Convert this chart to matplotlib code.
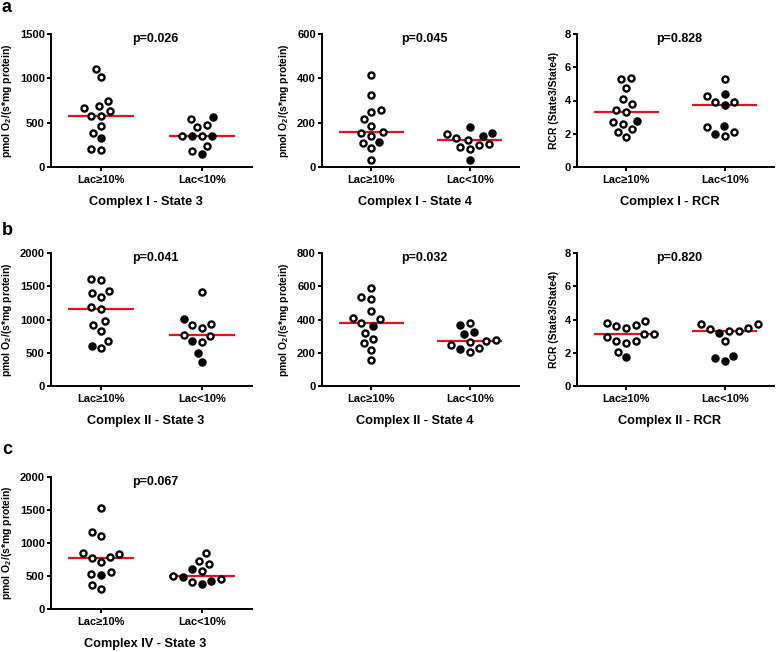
import numpy as np
import matplotlib.pyplot as plt

plt.rcParams['font.family'] = ['Liberation Sans', 'DejaVu Sans']
plt.rcParams['font.weight'] = 'bold'
plt.rcParams['axes.labelweight'] = 'bold'
plt.rcParams['mathtext.fontset'] = 'custom'
plt.rcParams['mathtext.rm'] = 'Liberation Sans:bold'
plt.rcParams['mathtext.default'] = 'rm'

# figure data
groups = ['Lac≥10%', 'Lac<10%']

# Complex I - State 3
ci_s3_hi_open = [1105, 1010, 750, 690, 660, 630, 580, 580, 460, 385, 200, 190]
ci_s3_hi_fill = [330]
ci_s3_lo_open = [543, 479, 449, 350, 350, 241, 177]
ci_s3_lo_fill = [565, 350, 350, 147]

# Complex I - State 4
ci_s4_hi_open = [416, 327, 256, 247, 217, 187, 157, 154, 139, 109, 87, 33]
ci_s4_hi_fill = [115]
ci_s4_lo_open = [151, 130, 124, 102, 99, 89, 80]
ci_s4_lo_fill = [181, 155, 140, 33]

# Complex I - RCR
ci_rcr_hi_open = [5.37, 5.29, 4.78, 4.10, 3.78, 3.40, 3.28, 2.69, 2.59, 2.29, 2.09, 1.79]
ci_rcr_hi_fill = [2.79]
ci_rcr_lo_open = [5.27, 4.28, 3.92, 3.92, 2.39, 2.09, 1.89]
ci_rcr_lo_fill = [4.38, 3.70, 2.49, 1.99]

# Complex II - State 3
cii_s3_hi_open = [1614, 1589, 1424, 1399, 1338, 1183, 1153, 973, 912, 832, 677, 571]
cii_s3_hi_fill = [607]
cii_s3_lo_open = [1409, 932, 917, 877, 762, 752, 667]
cii_s3_lo_fill = [1008, 672, 501, 361]

# Complex II - State 4
cii_s4_hi_open = [587, 533, 523, 451, 411, 401, 377, 321, 283, 257, 217, 156]
cii_s4_hi_fill = [359]
cii_s4_lo_open = [381, 279, 271, 265, 247, 227, 202]
cii_s4_lo_fill = [369, 327, 315, 221]

# Complex II - RCR
cii_rcr_hi_open = [3.89, 3.81, 3.69, 3.59, 3.51, 3.11, 3.11, 2.93, 2.71, 2.71, 2.59, 2.03]
cii_rcr_hi_fill = [1.72]
cii_rcr_lo_open = [3.71, 3.71, 3.51, 3.41, 3.29, 3.29, 2.71]
cii_rcr_lo_fill = [3.21, 1.82, 1.70, 1.50]

# Complex IV - State 3
civ_s3_hi_open = [1533, 1166, 1100, 844, 834, 789, 779, 714, 558, 523, 362, 296]
civ_s3_hi_fill = [513]
civ_s3_lo_open = [854, 734, 688, 583, 503, 452, 407]
civ_s3_lo_fill = [608, 482, 427, 372]

p_values = ['p=0.026', 'p=0.045', 'p=0.828', 'p=0.041', 'p=0.032', 'p=0.820', 'p=0.067']
titles = ['Complex I - State 3', 'Complex I - State 4', 'Complex I - RCR',
          'Complex II - State 3', 'Complex II - State 4', 'Complex II - RCR',
          'Complex IV - State 3']
y_max = [1500, 600, 8, 2000, 800, 8, 2000]
y_step = [500, 200, 2, 500, 200, 2, 500]

flux_label = 'pmol O$_2$/(s*mg protein)'
rcr_label = 'RCR (State3/State4)'
y_labels = [flux_label, flux_label, rcr_label, flux_label, flux_label, rcr_label, flux_label]

panel_data = [
    (ci_s3_hi_open, ci_s3_hi_fill, ci_s3_lo_open, ci_s3_lo_fill),
    (ci_s4_hi_open, ci_s4_hi_fill, ci_s4_lo_open, ci_s4_lo_fill),
    (ci_rcr_hi_open, ci_rcr_hi_fill, ci_rcr_lo_open, ci_rcr_lo_fill),
    (cii_s3_hi_open, cii_s3_hi_fill, cii_s3_lo_open, cii_s3_lo_fill),
    (cii_s4_hi_open, cii_s4_hi_fill, cii_s4_lo_open, cii_s4_lo_fill),
    (cii_rcr_hi_open, cii_rcr_hi_fill, cii_rcr_lo_open, cii_rcr_lo_fill),
    (civ_s3_hi_open, civ_s3_hi_fill, civ_s3_lo_open, civ_s3_lo_fill),
]


def swarm(y_px, d):
    # place points bottom-up, each as close to the centre as it can go
    xs = np.zeros(len(y_px))
    placed = []
    for i in np.argsort(y_px):
        y = y_px[i]
        cands = [0.0]
        for xj, yj in placed:
            dy = y - yj
            if abs(dy) < d:
                dx = np.sqrt(d * d - dy * dy)
                cands += [xj + dx, xj - dx]
        cands.sort(key=lambda c: (round(abs(c), 3), c))
        for c in cands:
            if all((c - xj) ** 2 + (y - yj) ** 2 >= d * d - 1e-6 for xj, yj in placed):
                xs[i] = c
                break
        placed.append((xs[i], y))
    return xs


# figure making
W, H = 778, 652
fig = plt.figure(figsize=(W / 100, H / 100), dpi=100)

# axes boxes in pixels: left, top, width, height
boxes = [(51, 34, 201, 133), (322, 34, 197, 133), (577, 34, 197, 133),
         (51, 253, 201, 133), (322, 253, 197, 133), (577, 253, 197, 133),
         (51, 477, 201, 132)]

for k, (left, top, w, h) in enumerate(boxes):
    ax = fig.add_axes([left / W, 1 - (top + h) / H, w / W, h / H])
    ax.set_xlim(-0.5, 1.5)
    ax.set_ylim(0, y_max[k])
    ppx = w / 2.0
    ppy = h / y_max[k]

    hi_open, hi_fill, lo_open, lo_fill = panel_data[k]
    for g, (op, fl) in enumerate([(hi_open, hi_fill), (lo_open, lo_fill)]):
        vals = np.array(op + fl, dtype=float)
        filled = np.array([False] * len(op) + [True] * len(fl))
        xs = g + swarm(vals * ppy, 10.0) / ppx
        med = np.median(vals)
        ax.plot([g - 0.33, g + 0.33], [med, med], color='#e8101c', lw=1.6, zorder=2,
                solid_capstyle='butt')
        ax.plot(xs[~filled], vals[~filled], 'o', ms=4.4, mfc='white', mec='black',
                mew=1.7, zorder=3, clip_on=False)
        ax.plot(xs[filled], vals[filled], 'o', ms=4.4, mfc='black', mec='black',
                mew=1.7, zorder=3, clip_on=False)

    ax.set_yticks(np.arange(0, y_max[k] + y_step[k] / 2, y_step[k]))
    ax.set_xticks([0, 1])
    ax.set_xticklabels(groups)
    for s in ['top', 'right']:
        ax.spines[s].set_visible(False)
    for s in ['left', 'bottom']:
        ax.spines[s].set_linewidth(1.4)
    ax.tick_params(width=1.4, length=3, labelsize=8, pad=1.5)
    ax.tick_params(axis='x', pad=3)
    ax.set_ylabel(y_labels[k], fontsize=7.5, labelpad=4)
    ax.text(0.52, 0.965, p_values[k], transform=ax.transAxes, ha='center',
            va='center', fontsize=9, fontweight='bold')
    ax.text(0.47, -35 / h, titles[k], transform=ax.transAxes, ha='center',
            va='center', fontsize=9.2, fontweight='bold')

for letter, base in [('a', 12), ('b', 235), ('c', 454)]:
    fig.text(2 / W, 1 - base / H, letter, fontsize=13, fontweight='bold',
             va='baseline', ha='left')

plt.savefig('out.png', dpi=100)
